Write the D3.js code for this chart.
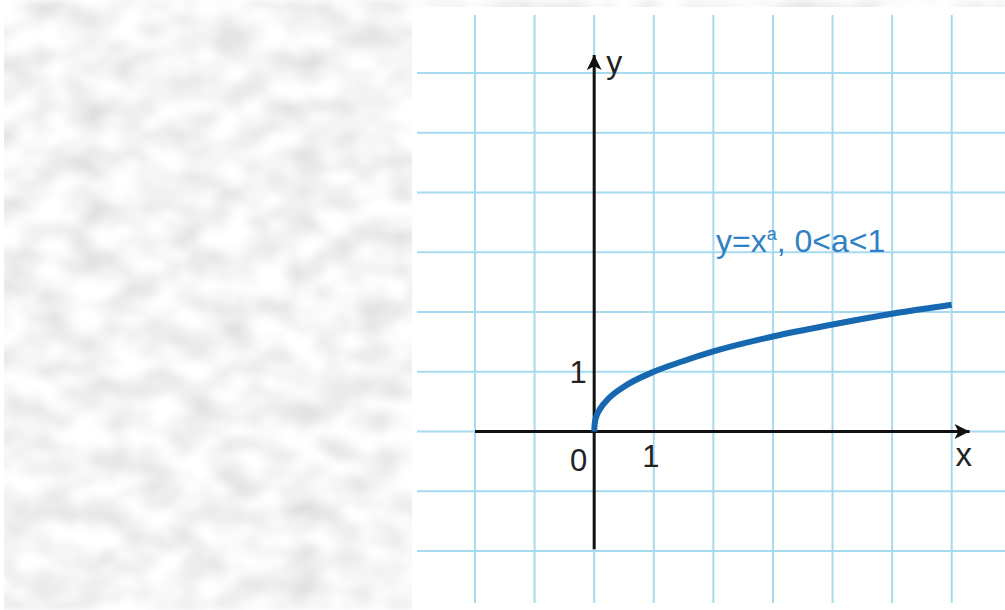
<!DOCTYPE html>
<html>
<head>
<meta charset="utf-8">
<script src="https://cdn.jsdelivr.net/npm/d3@7"></script>
<style>
  html, body { margin: 0; padding: 0; background: #fff; }
  svg { display: block; }
  text { font-family: "Liberation Sans", Arial, sans-serif; }
</style>
</head>
<body>
<svg id="chart" width="1005" height="610"></svg>
<script>
// Grid positions (in axis units)
const gridX = [-2, -1, 0, 1, 2, 3, 4, 5, 6];
const gridY = [-2, -1, 0, 1, 2, 3, 4, 5, 6];

// Points read along the curve y = x^a (0 < a < 1)
const curveX = [0, 0.01, 0.04, 0.1, 0.25, 0.5, 1, 1.5, 2, 3, 4, 5, 6];
const curveY = [0, 0.14, 0.26, 0.38, 0.56, 0.75, 1, 1.18, 1.34, 1.59, 1.79, 1.97, 2.12];

// Tick labels next to the axes
const tickLabels = [
  { text: "0", x: 0, y: 0, pos: "below-left" },
  { text: "1", x: 1, y: 0, pos: "below" },
  { text: "1", x: 0, y: 1, pos: "left" }
];
const axisNames = { x: "x", y: "y" };
const curveLabel = { main: "y=x", sup: "a", rest: ", 0<a<1" };

const svg = d3.select("#chart");
const W = 1005, H = 610;

const x = d3.scaleLinear().domain([-2, 6]).range([475, 951.7]);
const y = d3.scaleLinear().domain([-2, 6]).range([551, 73]);

const defs = svg.append("defs");

// soft grey paper texture behind the card
const f = defs.append("filter").attr("id", "paper")
  .attr("filterUnits", "userSpaceOnUse")
  .attr("x", 0).attr("y", 0).attr("width", W).attr("height", H);
f.append("feTurbulence").attr("type", "fractalNoise")
  .attr("baseFrequency", "0.028 0.04").attr("numOctaves", 2).attr("seed", 11).attr("result", "n");
f.append("feColorMatrix").attr("type", "matrix")
  .attr("values", "0.5 0 0 0 0.66  0.5 0 0 0 0.66  0.5 0 0 0 0.66  0 0 0 0 1").attr("result", "g");
f.append("feGaussianBlur").attr("stdDeviation", 3);

svg.append("rect").attr("x", 0).attr("y", 0).attr("width", W).attr("height", H)
  .attr("fill", "#e9e9e9").attr("filter", "url(#paper)");
svg.append("rect").attr("x", 0).attr("y", 0).attr("width", 4).attr("height", H).attr("fill", "#fff");

// white card
svg.append("rect").attr("x", 412).attr("y", 7).attr("width", W - 412).attr("height", H - 7)
  .attr("fill", "#fff");

// arrow markers
const mk = defs.append("marker").attr("id", "arrow")
  .attr("viewBox", "0 0 10 10").attr("refX", 10).attr("refY", 5)
  .attr("markerUnits", "userSpaceOnUse")
  .attr("markerWidth", 24).attr("markerHeight", 15).attr("orient", "auto");
mk.append("path").attr("d", "M0,0 L10,5 L0,10 L2.5,5 Z").attr("fill", "#111");

// grid
const grid = svg.append("g").attr("stroke", "#a6daf0").attr("stroke-width", 2);
grid.selectAll("line.v").data(gridX).join("line").attr("class", "v")
  .attr("x1", d => x(d)).attr("x2", d => x(d)).attr("y1", 15).attr("y2", 603);
grid.selectAll("line.h").data(gridY).join("line").attr("class", "h")
  .attr("y1", d => y(d)).attr("y2", d => y(d)).attr("x1", 417).attr("x2", W);

// axes
const axes = svg.append("g").attr("stroke", "#111").attr("stroke-width", 3);
axes.append("line").attr("x1", x(-2)).attr("x2", x(6.3)).attr("y1", y(0)).attr("y2", y(0))
  .attr("marker-end", "url(#arrow)");
axes.append("line").attr("x1", x(0)).attr("x2", x(0)).attr("y1", y(-1.97)).attr("y2", y(6.3))
  .attr("marker-end", "url(#arrow)");

// curve
const pts = curveX.map((v, i) => [v, curveY[i]]);
svg.append("path").datum(pts)
  .attr("d", d3.line().x(d => x(d[0])).y(d => y(d[1])).curve(d3.curveMonotoneX))
  .attr("fill", "none").attr("stroke", "#1668b0").attr("stroke-width", 6);

// tick labels
const tl = svg.append("g").attr("fill", "#222").attr("font-size", 31);
tickLabels.forEach(t => {
  let px = x(t.x), py = y(t.y);
  if (t.pos === "below-left") { px -= 15.5; py += 39; }
  else if (t.pos === "below") { px -= 3; py += 35; }
  else if (t.pos === "left") { px -= 16; py += 11; }
  tl.append("text").attr("x", px).attr("y", py).attr("text-anchor", "middle").text(t.text);
});

// axis names
svg.append("text").attr("x", x(6.3) - 14).attr("y", y(0) + 34).attr("font-size", 33)
  .attr("fill", "#222").text(axisNames.x);
svg.append("text").attr("x", x(0) + 12).attr("y", y(6.3) + 18).attr("font-size", 32)
  .attr("fill", "#222").text(axisNames.y);

// curve label
const lab = svg.append("text").attr("x", 716).attr("y", y(3))
  .attr("font-size", 32).attr("fill", "#2f80c4");
lab.append("tspan").text(curveLabel.main);
lab.append("tspan").attr("font-size", 18).attr("dy", -12).text(curveLabel.sup);
lab.append("tspan").attr("dy", 12).text(curveLabel.rest);
</script>
</body>
</html>
